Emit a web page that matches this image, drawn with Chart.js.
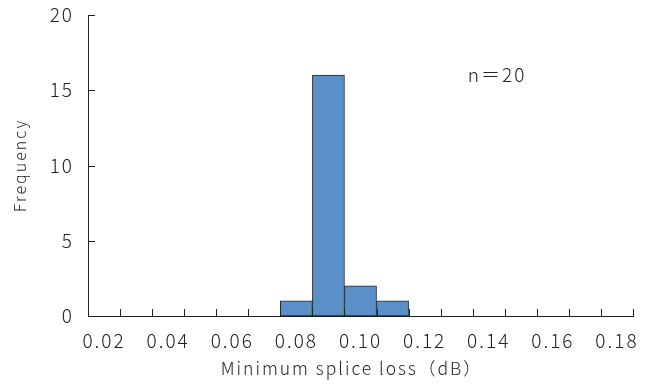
<!DOCTYPE html>
<html>
<head>
<meta charset="utf-8">
<script src="https://cdn.jsdelivr.net/npm/chart.js@4/dist/chart.umd.min.js"></script>
<style>
  html, body { margin: 0; padding: 0; background: #fff; }
  #wrap { width: 659px; height: 387px; position: relative; }
</style>
</head>
<body>
<div id="wrap"><canvas id="c"></canvas></div>
<script>
// bins of minimum splice loss (dB), width 0.01
const binLabels = ["0.02","0.03","0.04","0.05","0.06","0.07","0.08","0.09","0.10",
                   "0.11","0.12","0.13","0.14","0.15","0.16","0.17","0.18"];
const counts = [0,0,0,0,0,0,1,16,2,1,0,0,0,0,0,0,0];
const yTicks = [0, 5, 10, 15, 20];
const xTitle = "Minimum splice loss（dB）";
const note = "n＝20";

const FONT = '"Noto Sans CJK JP", "Noto Sans", sans-serif';
const INK = "#222";

// the original uses a wide gothic face, so spread the letters a bit
const spacing = {
  id: "spacing",
  beforeDraw(chart){ chart.ctx.letterSpacing = "2px"; }
};

// inward tick marks on both axes, x title (sits left of centre) and the n note
const innerTicks = {
  id: "innerTicks",
  afterDraw(chart){
    const {ctx, scales:{x, y}, chartArea:a} = chart;
    ctx.save();
    ctx.strokeStyle = INK;
    ctx.lineWidth = 1;
    ctx.beginPath();
    for (let i = 0; i <= binLabels.length; i++){
      const px = Math.round(x.getPixelForValue(i - 0.5)) + 0.5;
      ctx.moveTo(px, a.bottom);
      ctx.lineTo(px, a.bottom - 7);
    }
    yTicks.forEach(v=>{
      const py = Math.round(y.getPixelForValue(v)) + 0.5;
      ctx.moveTo(a.left, py);
      ctx.lineTo(a.left + 7, py);
    });
    ctx.stroke();

    ctx.fillStyle = INK;
    ctx.textBaseline = "middle";
    ctx.font = "300 17.5px " + FONT;
    ctx.textAlign = "center";
    ctx.fillText(xTitle, a.left + 0.484*(a.right - a.left), a.bottom + 52);

    ctx.font = "300 19px " + FONT;
    ctx.textAlign = "left";
    ctx.fillText(note, a.left + 0.697*(a.right - a.left), y.getPixelForValue(16));
    ctx.restore();
  }
};

new Chart(document.getElementById("c"), {
  type: "bar",
  data: {
    labels: binLabels,
    datasets: [{
      data: counts,
      backgroundColor: "#5b8fc7",
      borderColor: "#1e2a38",
      borderWidth: 1,
      borderSkipped: false,
      barPercentage: 1,
      categoryPercentage: 1
    }]
  },
  options: {
    responsive: true,
    maintainAspectRatio: false,
    animation: false,
    layout: { padding: { top: 15, right: 26, left: 0, bottom: 0 } },
    plugins: { legend: { display: false }, tooltip: { enabled: false } },
    scales: {
      x: {
        offset: true,
        grid: { display: false, drawTicks: false },
        border: { color: INK, width: 1 },
        ticks: {
          autoSkip: false, maxRotation: 0, color: INK, padding: 13,
          font: { family: FONT, size: 19, weight: 300 },
          callback: (v, i)=> i % 2 === 0 ? binLabels[i] : ""
        },
        afterFit(s){ s.height = 71; }
      },
      y: {
        min: 0, max: 20,
        grid: { display: false, drawTicks: false },
        border: { color: INK, width: 1 },
        ticks: {
          stepSize: 5, color: INK, padding: 14,
          font: { family: FONT, size: 19, weight: 300 }
        },
        title: {
          display: true, text: "Frequency", color: INK,
          font: { family: FONT, size: 16, weight: 300 }, padding: { top: 10 }
        },
        afterFit(s){ s.width = 88; s.paddingTop = 0; s.paddingBottom = 0; }
      }
    }
  },
  plugins: [spacing, innerTicks]
});
</script>
</body>
</html>
